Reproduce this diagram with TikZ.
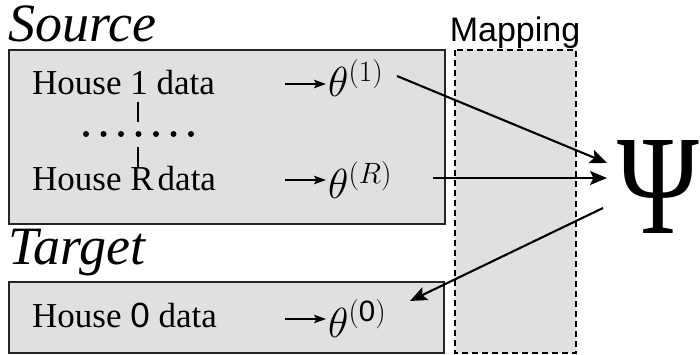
\RequirePackage{fix-cm}
\documentclass[tikz,border=0pt]{standalone}
\usepackage{fontspec}
\setmainfont{Liberation Serif}
\setsansfont{Liberation Sans}
\newfontfamily\serifface{Liberation Serif}
\usetikzlibrary{arrows.meta}
\definecolor{boxgray}{gray}{0.88}
\begin{document}
\begin{tikzpicture}[x=1pt,y=-1pt,
  panel/.style={fill=boxgray, draw=black!85, line width=1.5pt},
  mapbox/.style={fill=boxgray, draw=black, line width=1.8pt, dash pattern=on 6pt off 4pt},
  title/.style={anchor=base west, inner sep=0pt, font=\serifface\itshape\fontsize{54}{54}\selectfont},
  housetext/.style={anchor=base west, inner sep=0pt, font=\serifface\fontsize{35}{35}\selectfont},
  param/.style={anchor=base west, inner sep=0pt, font=\fontsize{42}{42}\selectfont},
  bigarrow/.style={-{Stealth[length=17pt,width=14pt,inset=3.5pt]}, line width=2.1pt},
  smallarrow/.style={-{Stealth[length=12pt,width=8.5pt,inset=2.5pt]}, line width=1.7pt, shorten >=2pt},
  sep/.style={line width=2.2pt}
]
\useasboundingbox (0,0) rectangle (700,355);

% panels
\draw[panel] (9,50) rectangle (445,224);
\draw[panel] (9,282) rectangle (444,353);
\draw[mapbox] (455,50) rectangle (576,353);

% titles
\node[title] (srclbl) at (8,42) {Source};
\node[title] (tgtlbl) at (8,264) {Target};
\node[anchor=base, inner sep=0pt, font=\sffamily\fontsize{34}{34}\selectfont] (maplbl) at (515,42) {Mapping};

% house data
\node[housetext] (h1) at (32,95) {House 1 data};
\node[housetext] (hR) at (32,191) {House R\kern4pt data};
\node[housetext] (h0) at (32,327) {House \textsf{0} data};

% ellipsis between the houses
\foreach \i in {0,...,6} \fill (86+17.5*\i,134) circle (3pt);
\draw[sep] (138,102) -- (138,122);
\draw[sep] (138,147) -- (138,167);

% parameters
\node[param] (t1) at (328,97) {$\theta^{(1)}$};
\node[param] (tR) at (328,199) {$\theta^{(R)}$};
\node[param] (t0) at (328,337) {$\theta^{(\mathsf{0})}$};

\coordinate (a1) at (285,84);
\coordinate (aR) at (285,180);
\coordinate (a0) at (285,319);
\draw[smallarrow] (a1) -- (a1 -| t1.west);
\draw[smallarrow] (aR) -- (aR -| tR.west);
\draw[smallarrow] (a0) -- (a0 -| t0.west);

% mapping
\node[anchor=base, inner sep=0pt, xscale=0.78, font=\serifface\fontsize{142}{142}\selectfont] (psi) at (658,233) {Ψ};

\draw[bigarrow] ([shift={(69,-21)}]t1.base west) -- ([shift={(-51,-70)}]psi.base);
\draw[bigarrow] ([shift={(105,-21)}]tR.base west) -- ([shift={(-51,-55)}]psi.base);
\draw[bigarrow] ([shift={(-55,-25)}]psi.base) -- ([shift={(82,-36)}]t0.base west);
\end{tikzpicture}
\end{document}
